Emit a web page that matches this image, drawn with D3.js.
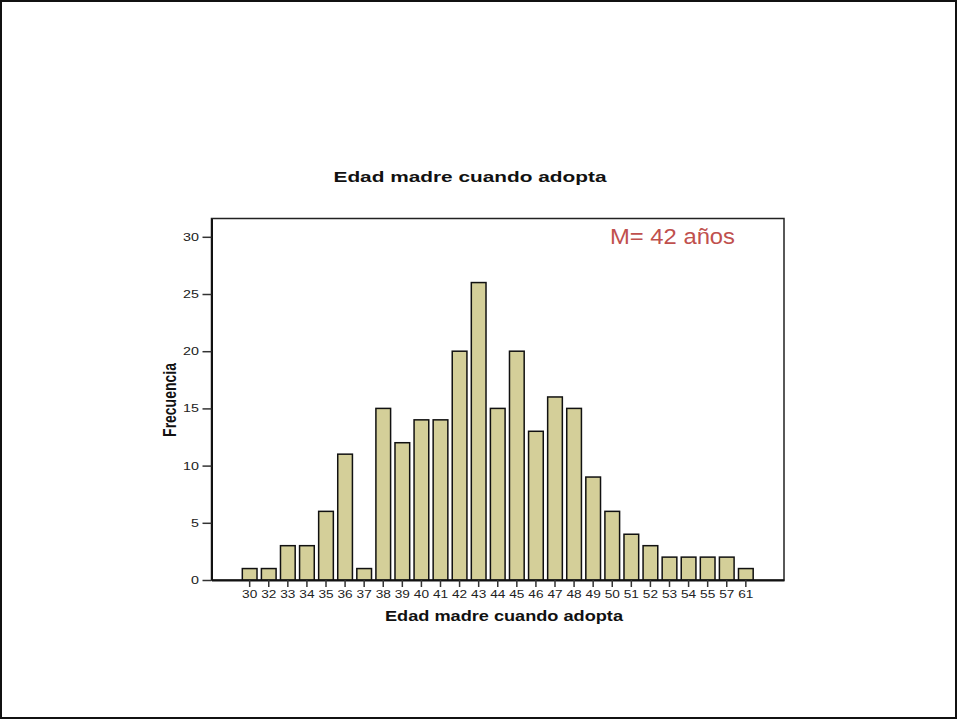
<!DOCTYPE html>
<html><head><meta charset="utf-8">
<script src="https://cdn.jsdelivr.net/npm/d3@7"></script>
<style>
html,body{margin:0;padding:0;background:#fff;}
svg{display:block;font-family:"Liberation Sans",Arial,Helvetica,sans-serif;}
</style></head>
<body>
<svg id="chart" width="957" height="720"></svg>
<script>
const categories = ["30","32","33","34","35","36","37","38","39","40","41","42","43","44","45","46","47","48","49","50","51","52","53","54","55","57","61"];
const frequencies = [1,1,3,3,6,11,1,15,12,14,14,20,26,15,20,13,16,15,9,6,4,3,2,2,2,2,1];
const yTicks = [0,5,10,15,20,25,30];
const titleText = "Edad madre cuando adopta";
const xLabel = "Edad madre cuando adopta";
const yLabel = "Frecuencia";
const annotation = "M= 42 años";

const SX = 1.3; // horizontal stretch of the original picture

const svg = d3.select("#chart");
// page border
svg.append("rect").attr("x",1).attr("y",1).attr("width",955).attr("height",717)
  .attr("fill","#fff").attr("stroke","#111").attr("stroke-width",2);

const L = 211.5, R = 784, T = 218.5, B = 580;
const x = d3.scaleBand().domain(categories).range([L, R]).paddingInner(0.23).paddingOuter(1.615);
const y = d3.scaleLinear().domain([0, 31.6]).range([B, T]);

// frame
svg.append("rect").attr("x",L).attr("y",T).attr("width",R-L).attr("height",B-T)
  .attr("fill","none").attr("stroke","#222").attr("stroke-width",1.5);

// bars
svg.append("g").selectAll("rect").data(categories).join("rect")
  .attr("x", d => x(d))
  .attr("y", (d,i) => y(frequencies[i]))
  .attr("width", x.bandwidth())
  .attr("height", (d,i) => y(0) - y(frequencies[i]))
  .attr("fill", "#d4cf99")
  .attr("stroke", "#111")
  .attr("stroke-width", 1.5);

// y axis
const yAxis = svg.append("g").attr("transform", `translate(${L},0)`)
  .call(d3.axisLeft(y).tickValues(yTicks).tickSize(9).tickSizeOuter(0).tickPadding(3));
yAxis.select(".domain").attr("stroke","#111").attr("stroke-width",2);
yAxis.selectAll(".tick line").attr("stroke","#333").attr("stroke-width",1.5);
yAxis.selectAll(".tick text").attr("font-size",11).attr("fill","#222")
  .attr("x", -12.5/SX).attr("transform", `scale(${SX},1)`);

// x axis
const xAxis = svg.append("g").attr("transform", `translate(0,${B})`)
  .call(d3.axisBottom(x).tickSize(7).tickSizeOuter(0).tickPadding(4));
xAxis.select(".domain").attr("stroke","#111").attr("stroke-width",2);
xAxis.selectAll(".tick line").attr("stroke","#333").attr("stroke-width",1.5);
xAxis.selectAll(".tick text").attr("font-size",10.5).attr("fill","#222")
  .attr("transform", `scale(${SX},1)`);

// titles
svg.append("text").attr("transform","translate(470,182)").attr("text-anchor","middle")
  .attr("font-size",15.5).attr("font-weight","bold").attr("fill","#111")
  .attr("textLength",273).attr("lengthAdjust","spacingAndGlyphs").text(titleText);
svg.append("text").attr("transform","translate(504,621)").attr("text-anchor","middle")
  .attr("font-size",14.5).attr("font-weight","bold").attr("fill","#111")
  .attr("textLength",238).attr("lengthAdjust","spacingAndGlyphs").text(xLabel);
svg.append("text").attr("transform",`translate(176,400) scale(${SX},1) rotate(-90)`).attr("text-anchor","middle")
  .attr("font-size",14).attr("font-weight","bold").attr("fill","#111").text(yLabel);

// annotation
svg.append("text").attr("x",610).attr("y",244).attr("font-size",22.5)
  .attr("fill","#c0504d").attr("textLength",125).attr("lengthAdjust","spacingAndGlyphs").text(annotation);
</script>
</body></html>
